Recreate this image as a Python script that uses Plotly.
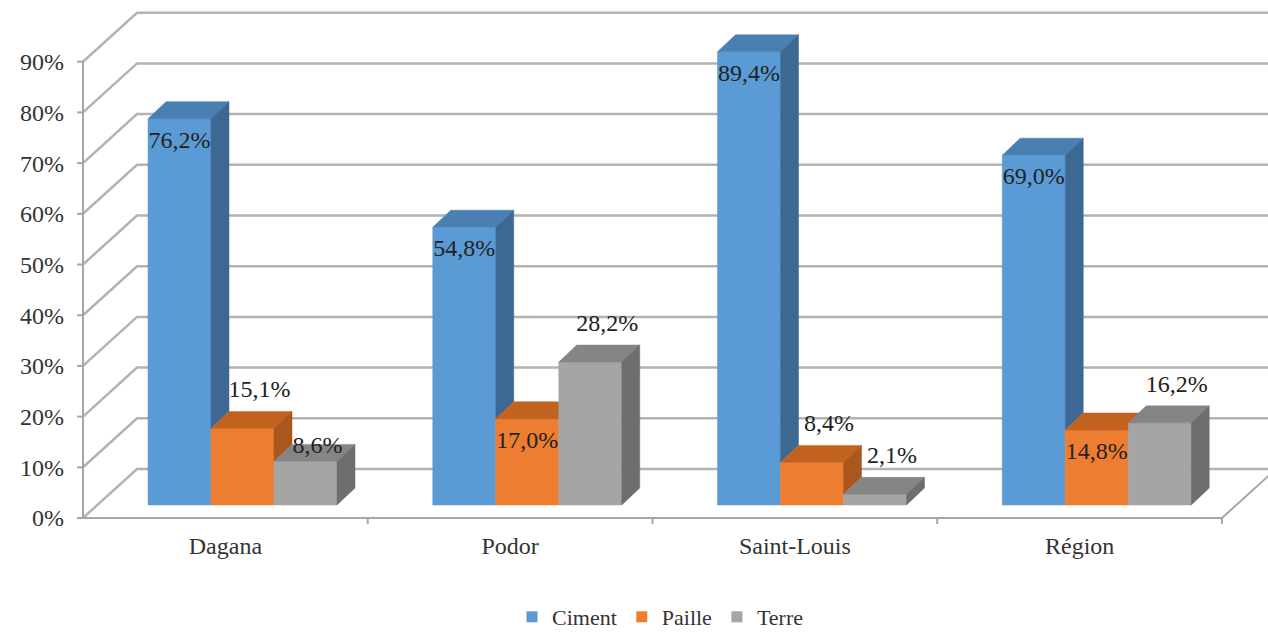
import plotly.graph_objects as go

# ---------------- data ----------------
categories = ["Dagana", "Podor", "Saint-Louis", "Région"]
series_names = ["Ciment", "Paille", "Terre"]
ciment = [76.2, 54.8, 89.4, 69.0]
paille = [15.1, 17.0, 8.4, 14.8]
terre = [8.6, 28.2, 2.1, 16.2]
y_ticks = [0, 10, 20, 30, 40, 50, 60, 70, 80, 90]
y_tick_labels = ["0%", "10%", "20%", "30%", "40%", "50%", "60%", "70%", "80%", "90%"]

values = [ciment, paille, terre]

# ---------------- styles ----------------
front_colors = ["#5B9BD5", "#ED7D31", "#A5A5A5"]
top_colors = ["#4A7FB2", "#C2621F", "#858585"]
side_colors = ["#3C6892", "#A9571C", "#6E6E6E"]
grid_color = "#B3B3B3"
font_family = "'Liberation Serif', 'Times New Roman', Times, serif"
# data-label placement style per category / series
label_modes = [
    ["in", "above", "top"],
    ["in", "in", "above"],
    ["in", "above", "above"],
    ["in", "in", "above"],
]
mode_offsets = {"in": (0, -23), "above": (17, 37), "top": (12, 14)}  # pixel offsets (dx, dy-up)

# ---------------- geometry (pixel -> data) ----------------
W, H = 1268, 638
X0_PX, Y0_PX = 83, 518          # pixel of x=0 / y=0
PX, PY = 284.75, 5.07           # px per x-unit, px per percent
L_M = 74                        # left margin
AXIS_PX = 526                   # pixel row where category labels hang
x_range = [-(X0_PX - L_M) / PX, (W - X0_PX) / PX]
y_range = [-(H - Y0_PX) / PY, Y0_PX / PY]

DXW, DYW = 54 / PX, 49 / PY     # wall depth
BASE = 13 / PY                  # bar base (front face) elevation
OFF, BW = 65 / PX, 63 / PX      # bar offset in category and width
SX, SY = 18 / PX, 17 / PY       # bar depth

fig = go.Figure()

# back / side wall gridlines
gx, gy = [], []
for t in y_ticks:
    gx += [0, DXW, x_range[1] + 1, None]
    gy += [t, t + DYW, t + DYW, None]
fig.add_trace(go.Scatter(x=gx, y=gy, mode="lines", line=dict(color=grid_color, width=2.5),
                         hoverinfo="skip", showlegend=False))

# axis lines, floor edge and tick marks
ax, ay = [0, 0, None], [0, y_ticks[-1], None]
ax += [0, len(categories), len(categories) + DXW, None]
ay += [0, 0, DYW, None]
for t in y_ticks:
    ax += [-6 / PX, 0, None]
    ay += [t, t, None]
for k in range(1, len(categories) + 1):
    ax += [k, k, None]
    ay += [0, -6 / PY, None]
fig.add_trace(go.Scatter(x=ax, y=ay, mode="lines", line=dict(color="#A6A6A6", width=2),
                         hoverinfo="skip", showlegend=False))

# 3D bars, drawn series by series (left to right within each group)
for j, vals in enumerate(values):
    fx, fy, tx, ty, sx, sy = [], [], [], [], [], []
    lx, ly, lt = [], [], []
    for i, v in enumerate(vals):
        xl = i + OFF + j * BW
        xr = xl + BW
        top = BASE + v
        fx += [xl, xr, xr, xl, xl, None]
        fy += [BASE, BASE, top, top, BASE, None]
        tx += [xl, xr, xr + SX, xl + SX, xl, None]
        ty += [top, top, top + SY, top + SY, top, None]
        lo = values[j + 1][i] if j + 1 < len(values) else 0
        if lo < v:
            b = BASE + lo
            sx += [xr, xr, xr + SX, xr + SX, xr, None]
            sy += [b, top, top + SY, b + SY, b, None]
        dx, dy = mode_offsets[label_modes[i][j]]
        lx.append((xl + xr) / 2 + dx / PX)
        ly.append(top + dy / PY)
        lt.append(f"{v:.1f}".replace(".", ",") + "%")
    for xs, ys, c in ((fx, fy, front_colors[j]), (tx, ty, top_colors[j]), (sx, sy, side_colors[j])):
        fig.add_trace(go.Scatter(x=xs, y=ys, mode="lines", fill="toself", fillcolor=c,
                                 line=dict(width=0.5, color=c), hoverinfo="skip", showlegend=False))
    fig.add_trace(go.Scatter(x=lx, y=ly, mode="text", text=lt, textposition="middle center",
                             textfont=dict(family=font_family, size=24, color="#222222"),
                             cliponaxis=False, hoverinfo="skip", showlegend=False))

# legend entries
for j, name in enumerate(series_names):
    fig.add_trace(go.Scatter(x=[None], y=[None], mode="markers", name=name,
                             marker=dict(symbol="square", size=11, color=front_colors[j])))

tick_font = dict(family=font_family, size=24, color="#333333")
fig.update_layout(
    width=W, height=H,
    margin=dict(l=L_M, r=0, t=0, b=0),
    plot_bgcolor="white", paper_bgcolor="white",
    font=tick_font,
    xaxis=dict(range=x_range, tickvals=[i + 0.5 for i in range(len(categories))],
               ticktext=categories, tickfont=tick_font, showgrid=False, zeroline=False,
               showline=False, ticks="", ticklabelstandoff=3, fixedrange=True,
               anchor="free", position=(H - AXIS_PX) / H, automargin=False),
    yaxis=dict(range=y_range, tickvals=y_ticks, ticktext=y_tick_labels, tickfont=tick_font,
               showgrid=False, zeroline=False, showline=False, ticks="",
               ticklabelstandoff=9, fixedrange=True, automargin=False),
    legend=dict(orientation="h", x=(660 - L_M) / (W - L_M), xanchor="center",
                y=0, yanchor="bottom",
                font=dict(family=font_family, size=22, color="#333333"),
                itemwidth=30, tracegroupgap=0, bgcolor="rgba(0,0,0,0)"),
    showlegend=True,
)

fig.write_html("out.html")
